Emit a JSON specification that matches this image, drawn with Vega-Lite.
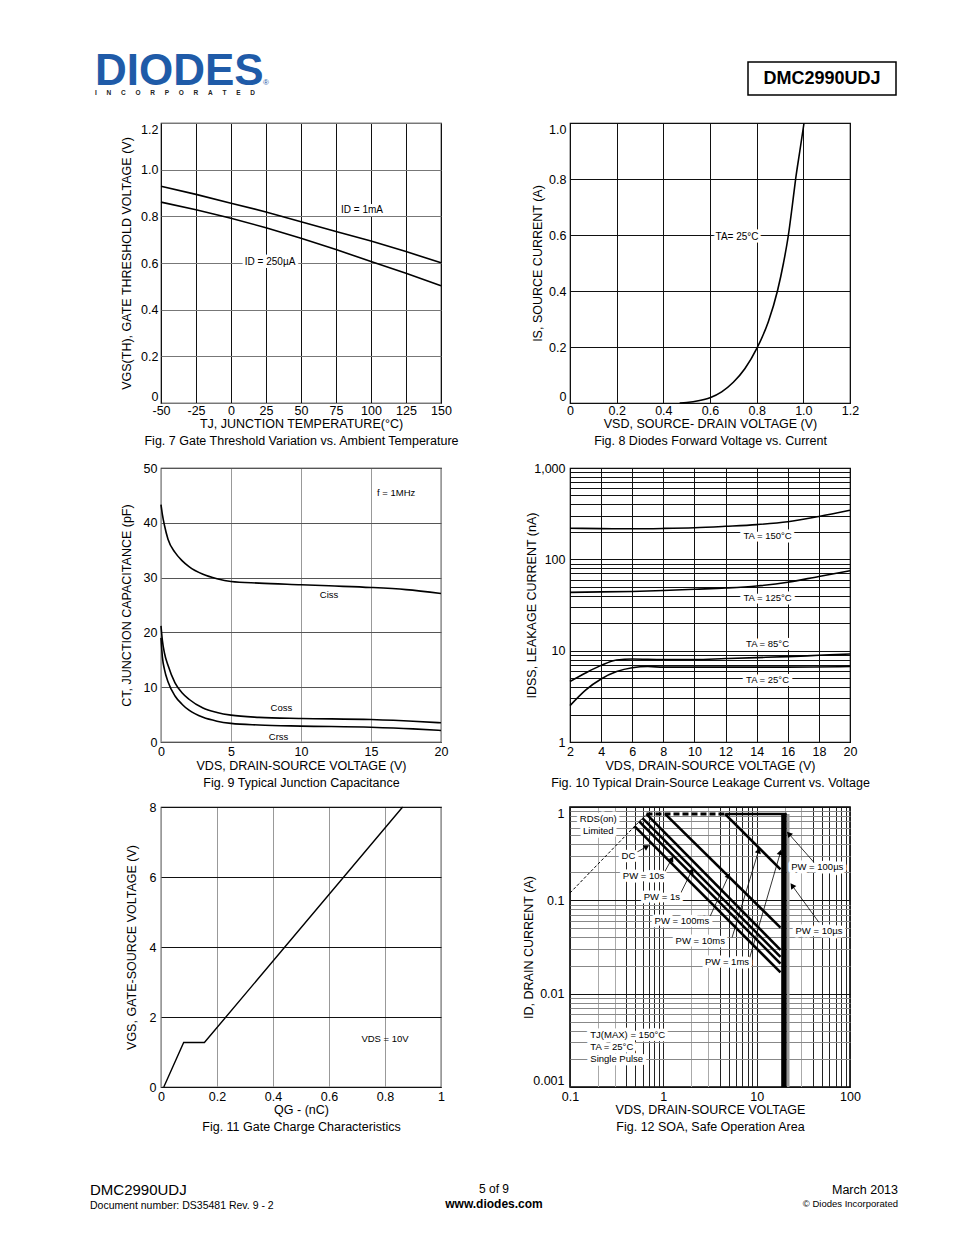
{
  "$schema": "https://vega.github.io/schema/vega-lite/v6.json",
  "background": "white",
  "padding": {"left": 90, "top": 50, "right": 10, "bottom": 10},
  "bounds": "flush",
  "columns": 2,
  "spacing": {"row": 65, "column": 129},
  "config": {
    "font": "Liberation Sans",
    "view": {"stroke": null},
    "axis": {"labelFont": "Liberation Sans", "labelFontSize": 12.5, "labelColor": "#000", "titleFont": "Liberation Sans", "titleFontSize": 12.5, "titleFontWeight": "normal", "titleColor": "#000", "ticks": false, "domain": false, "labelFlush": false, "labelOverlap": false, "labelBound": false, "gridOpacity": 1, "gridWidth": 1, "titleLineHeight": 17, "tickCount": 100},
    "axisX": {"labelPadding": 2, "titlePadding": 1},
    "axisY": {"labelPadding": 4},
    "text": {"font": "Liberation Sans", "fontSize": 10},
    "line": {"color": "black", "strokeWidth": 1.6}
  },
  "datasets": {
    "fig7": [
      {"s": "1mA", "x": -50, "y": 0.929}, {"s": "1mA", "x": -25, "y": 0.894}, {"s": "1mA", "x": 0, "y": 0.856}, {"s": "1mA", "x": 25, "y": 0.819}, {"s": "1mA", "x": 50, "y": 0.777}, {"s": "1mA", "x": 75, "y": 0.735}, {"s": "1mA", "x": 100, "y": 0.694}, {"s": "1mA", "x": 125, "y": 0.649}, {"s": "1mA", "x": 150, "y": 0.601},
      {"s": "250uA", "x": -50, "y": 0.861}, {"s": "250uA", "x": -25, "y": 0.828}, {"s": "250uA", "x": 0, "y": 0.792}, {"s": "250uA", "x": 25, "y": 0.751}, {"s": "250uA", "x": 50, "y": 0.706}, {"s": "250uA", "x": 75, "y": 0.658}, {"s": "250uA", "x": 100, "y": 0.606}, {"s": "250uA", "x": 125, "y": 0.556}, {"s": "250uA", "x": 150, "y": 0.503}
    ],
    "fig7_lab": [{"t": "ID = 1mA", "x": 93.6, "y": 0.827}, {"t": "ID = 250µA", "x": 27.9, "y": 0.604}],
    "fig8": [
      {"x": 0.47, "y": 0}, {"x": 0.5, "y": 0.002}, {"x": 0.55, "y": 0.008}, {"x": 0.6, "y": 0.019}, {"x": 0.65, "y": 0.04}, {"x": 0.7, "y": 0.074}, {"x": 0.75, "y": 0.123}, {"x": 0.8, "y": 0.194}, {"x": 0.85, "y": 0.29}, {"x": 0.889, "y": 0.4}, {"x": 0.915, "y": 0.5}, {"x": 0.936, "y": 0.6}, {"x": 0.952, "y": 0.7}, {"x": 0.967, "y": 0.8}, {"x": 0.985, "y": 0.9}, {"x": 1.003, "y": 1.0}
    ],
    "fig8_lab": [{"t": "TA= 25°C", "x": 0.716, "y": 0.593}],
    "fig9": [
      {"s": "Ciss", "x": 0, "y": 43.3}, {"s": "Ciss", "x": 0.1, "y": 41.5}, {"s": "Ciss", "x": 0.25, "y": 39.5}, {"s": "Ciss", "x": 0.5, "y": 37}, {"s": "Ciss", "x": 1, "y": 34.6}, {"s": "Ciss", "x": 1.5, "y": 33.1}, {"s": "Ciss", "x": 2, "y": 32.0}, {"s": "Ciss", "x": 3, "y": 30.6}, {"s": "Ciss", "x": 4, "y": 29.8}, {"s": "Ciss", "x": 5, "y": 29.3}, {"s": "Ciss", "x": 7, "y": 29.0}, {"s": "Ciss", "x": 10, "y": 28.7}, {"s": "Ciss", "x": 12, "y": 28.5}, {"s": "Ciss", "x": 15, "y": 28.2}, {"s": "Ciss", "x": 17.5, "y": 27.8}, {"s": "Ciss", "x": 20, "y": 27.1},
      {"s": "Coss", "x": 0, "y": 21.2}, {"s": "Coss", "x": 0.1, "y": 18.5}, {"s": "Coss", "x": 0.25, "y": 16.2}, {"s": "Coss", "x": 0.5, "y": 14}, {"s": "Coss", "x": 1, "y": 10.8}, {"s": "Coss", "x": 1.5, "y": 9.0}, {"s": "Coss", "x": 2, "y": 7.8}, {"s": "Coss", "x": 3, "y": 6.2}, {"s": "Coss", "x": 4, "y": 5.4}, {"s": "Coss", "x": 5, "y": 4.9}, {"s": "Coss", "x": 7, "y": 4.5}, {"s": "Coss", "x": 10, "y": 4.3}, {"s": "Coss", "x": 15, "y": 4.1}, {"s": "Coss", "x": 18, "y": 3.8}, {"s": "Coss", "x": 20, "y": 3.5},
      {"s": "Crss", "x": 0, "y": 19}, {"s": "Crss", "x": 0.1, "y": 15.5}, {"s": "Crss", "x": 0.25, "y": 13.2}, {"s": "Crss", "x": 0.5, "y": 11}, {"s": "Crss", "x": 1, "y": 8.4}, {"s": "Crss", "x": 1.5, "y": 6.9}, {"s": "Crss", "x": 2, "y": 5.8}, {"s": "Crss", "x": 3, "y": 4.5}, {"s": "Crss", "x": 4, "y": 3.8}, {"s": "Crss", "x": 5, "y": 3.4}, {"s": "Crss", "x": 7, "y": 3.1}, {"s": "Crss", "x": 10, "y": 2.9}, {"s": "Crss", "x": 15, "y": 2.7}, {"s": "Crss", "x": 18, "y": 2.4}, {"s": "Crss", "x": 20, "y": 2.1}
    ],
    "fig9_lab": [{"t": "f = 1MHz", "x": 16.8, "y": 45.5}, {"t": "Ciss", "x": 12.0, "y": 26.9}, {"t": "Coss", "x": 8.6, "y": 6.2}, {"t": "Crss", "x": 8.4, "y": 0.9}],
    "fig10": [
      {"s": "150", "x": 2, "y": 219}, {"s": "150", "x": 4, "y": 217}, {"s": "150", "x": 6, "y": 216}, {"s": "150", "x": 8, "y": 218}, {"s": "150", "x": 10, "y": 222}, {"s": "150", "x": 12, "y": 230}, {"s": "150", "x": 14, "y": 240}, {"s": "150", "x": 16, "y": 258}, {"s": "150", "x": 18, "y": 295}, {"s": "150", "x": 20, "y": 345},
      {"s": "125", "x": 2, "y": 43.5}, {"s": "125", "x": 4, "y": 44}, {"s": "125", "x": 6, "y": 44.5}, {"s": "125", "x": 8, "y": 45.5}, {"s": "125", "x": 10, "y": 47}, {"s": "125", "x": 12, "y": 48.5}, {"s": "125", "x": 14, "y": 51}, {"s": "125", "x": 16, "y": 56}, {"s": "125", "x": 18, "y": 65}, {"s": "125", "x": 20, "y": 75},
      {"s": "85", "x": 2, "y": 4.6}, {"s": "85", "x": 3, "y": 5.7}, {"s": "85", "x": 4, "y": 6.9}, {"s": "85", "x": 5, "y": 7.9}, {"s": "85", "x": 6, "y": 8.1}, {"s": "85", "x": 8, "y": 8.0}, {"s": "85", "x": 10, "y": 8.0}, {"s": "85", "x": 12, "y": 8.2}, {"s": "85", "x": 14, "y": 8.4}, {"s": "85", "x": 16, "y": 8.6}, {"s": "85", "x": 18, "y": 8.9}, {"s": "85", "x": 20, "y": 9.2},
      {"s": "25", "x": 2, "y": 2.5}, {"s": "25", "x": 3, "y": 3.7}, {"s": "25", "x": 4, "y": 4.9}, {"s": "25", "x": 5, "y": 5.9}, {"s": "25", "x": 6, "y": 6.5}, {"s": "25", "x": 7, "y": 6.7}, {"s": "25", "x": 8, "y": 6.6}, {"s": "25", "x": 10, "y": 6.6}, {"s": "25", "x": 12, "y": 6.6}, {"s": "25", "x": 16, "y": 6.6}, {"s": "25", "x": 20, "y": 6.7}
    ],
    "fig10_lab": [{"t": "TA = 150°C", "x": 14.7, "y": 179}, {"t": "TA = 125°C", "x": 14.7, "y": 38}, {"t": "TA = 85°C", "x": 14.7, "y": 11.9}, {"t": "TA = 25°C", "x": 14.7, "y": 4.8}],
    "fig11": [{"x": 0.01, "y": 0}, {"x": 0.081, "y": 1.27}, {"x": 0.155, "y": 1.27}, {"x": 0.863, "y": 8}],
    "fig11_lab": [{"t": "VDS = 10V", "x": 0.8, "y": 1.37}],
    "soa_rds": [{"v": 0.1, "i": 0.12, "v2": 0.66, "i2": 0.84}],
    "soa_lim": [{"v": 0.66, "i": 0.84, "v2": 4.6, "i2": 0.84}],
    "soa_lines": [
      {"s": "top", "v": 4.6, "i": 0.84, "v2": 21, "i2": 0.84},
      {"s": "1ms", "v": 4.6, "i": 0.84, "v2": 18, "i2": 0.215},
      {"s": "10ms", "v": 1.05, "i": 0.84, "v2": 18, "i2": 0.051},
      {"s": "100ms", "v": 0.66, "i": 0.84, "v2": 18, "i2": 0.0295},
      {"s": "1s", "v": 0.597, "i": 0.76, "v2": 18, "i2": 0.0248},
      {"s": "10s", "v": 0.55, "i": 0.70, "v2": 18, "i2": 0.021},
      {"s": "DC", "v": 0.49, "i": 0.625, "v2": 18, "i2": 0.0169}
    ],
    "soa_vert": [{"v": 19.6, "i": 0.84, "v2": 19.6, "i2": 0.001}],
    "soa_vert2": [{"v": 21.8, "i": 0.84, "v2": 21.8, "i2": 0.001}],
    "soa_leaders": [
      {"pw": "DC", "v": 0.499, "i": 0.32, "v2": 0.665, "i2": 0.377},
      {"pw": "10s", "v": 1.005, "i": 0.192, "v2": 1.233, "i2": 0.278},
      {"pw": "1s", "v": 1.52, "i": 0.117, "v2": 2.02, "i2": 0.208},
      {"pw": "100ms", "v": 3.19, "i": 0.0683, "v2": 5.01, "i2": 0.184},
      {"pw": "10ms", "v": 5.45, "i": 0.04, "v2": 10.5, "i2": 0.341},
      {"pw": "1ms", "v": 8.22, "i": 0.0224, "v2": 18.0, "i2": 0.328},
      {"pw": "100us", "v": 41.0, "i": 0.256, "v2": 22.1, "i2": 0.516},
      {"pw": "10us", "v": 46.5, "i": 0.058, "v2": 24.0, "i2": 0.144}
    ],
    "soa_lab": [
      {"t": "RDS(on)", "v": 0.201, "i": 0.748}, {"t": "Limited", "v": 0.201, "i": 0.556},
      {"t": "DC", "v": 0.423, "i": 0.302},
      {"t": "PW = 10s", "v": 0.614, "i": 0.184},
      {"t": "PW = 1s", "v": 0.964, "i": 0.108},
      {"t": "PW = 100ms", "v": 1.58, "i": 0.06},
      {"t": "PW = 10ms", "v": 2.49, "i": 0.0368},
      {"t": "PW = 1ms", "v": 4.81, "i": 0.0216},
      {"t": "PW = 100µs", "v": 44.6, "i": 0.226},
      {"t": "PW = 10µs", "v": 46.5, "i": 0.047}
    ],
    "soa_notes": [{"t": "TJ(MAX) = 150°C", "v": 0.165, "i": 0.00365}, {"t": "TA = 25°C", "v": 0.165, "i": 0.00271}, {"t": "Single Pulse", "v": 0.165, "i": 0.00201}]
  },
  "concat": [
    {
      "width": 280, "height": 8,
      "view": {"stroke": null},
      "layer": [
        {"data": {"values": [{"t": "DIODES"}]},
         "mark": {"type": "text", "align": "left", "baseline": "top", "fontSize": 44, "fontWeight": "bold", "color": "#1f5ba8", "dx": -66},
         "encoding": {"x": {"datum": "left", "type": "nominal", "scale": {"type": "point", "domain": ["left", "right"], "padding": 0}, "axis": null}, "y": {"datum": "top", "type": "nominal", "scale": {"type": "point", "domain": ["top", "bottom"], "padding": 0}, "axis": null}, "text": {"field": "t"}}},
        {"data": {"values": [{"t": "®"}]},
         "mark": {"type": "text", "align": "left", "baseline": "middle", "fontSize": 8, "color": "#1f5ba8", "dx": 102, "dy": 33},
         "encoding": {"x": {"datum": "left", "type": "nominal"}, "y": {"datum": "top", "type": "nominal"}, "text": {"field": "t"}}},
        {"data": {"values": [{"t": "I\u2003\u2002N\u2003\u2002C\u2003\u2002O\u2003\u2002R\u2003\u2002P\u2003\u2002O\u2003\u2002R\u2003\u2002A\u2003\u2002T\u2003\u2002E\u2003\u2002D"}]},
         "mark": {"type": "text", "align": "left", "baseline": "middle", "fontSize": 6.5, "fontWeight": "bold", "color": "#222", "dx": -66, "dy": 43},
         "encoding": {"x": {"datum": "left", "type": "nominal"}, "y": {"datum": "top", "type": "nominal"}, "text": {"field": "t"}}}
      ]
    },
    {
      "width": 280, "height": 8,
      "view": {"stroke": null},
      "layer": [
        {"data": {"values": [{"t": "DMC2990UDJ"}]},
         "mark": {"type": "point", "shape": "M-1,-0.223H1V0.223H-1Z", "size": 21904, "filled": false, "stroke": "black", "strokeWidth": 1.5, "opacity": 1, "xOffset": -28, "yOffset": 28.5},
         "encoding": {"x": {"datum": "right", "type": "nominal", "scale": {"type": "point", "domain": ["left", "right"], "padding": 0}, "axis": null}, "y": {"datum": "top", "type": "nominal", "scale": {"type": "point", "domain": ["top", "bottom"], "padding": 0}, "axis": null}}},
        {"data": {"values": [{"t": "DMC2990UDJ"}]},
         "mark": {"type": "text", "align": "center", "baseline": "middle", "fontSize": 18, "fontWeight": "bold", "color": "black", "dx": -28, "dy": 28.5},
         "encoding": {"x": {"datum": "right", "type": "nominal"}, "y": {"datum": "top", "type": "nominal"}, "text": {"field": "t"}}}
      ]
    },
    {
      "width": 280, "height": 280,
      "view": {"stroke": "black", "strokeWidth": 1.2},
      "layer": [
        {"data": {"name": "fig7"}, "mark": {"type": "line", "color": "black", "strokeWidth": 1.6},
         "encoding": {
           "x": {"field": "x", "type": "quantitative", "scale": {"domain": [-50, 150], "nice": false, "zero": false},
                 "axis": {"values": [-50, -25, 0, 25, 50, 75, 100, 125, 150], "tickCount": 100, "labelOverlap": false, "grid": true, "gridColor": "#111", "labelPadding": 1, "titlePadding": 1, "labelExpr": "'' + datum.value", "title": ["TJ, JUNCTION TEMPERATURE(°C)", "Fig. 7 Gate Threshold Variation vs. Ambient Temperature"]}},
           "y": {"field": "y", "type": "quantitative", "scale": {"domain": [0, 1.2], "nice": false, "zero": false},
                 "axis": {"values": [0, 0.2, 0.4, 0.6, 0.8, 1, 1.2], "tickCount": 100, "labelOverlap": false, "labelFlush": true, "grid": true, "gridColor": "#777", "labelPadding": 3, "titlePadding": 7.5, "labelExpr": "datum.value == 0 ? '0' : format(datum.value, '.1f')", "title": "VGS(TH), GATE THRESHOLD VOLTAGE (V)"}},
           "detail": {"field": "s", "type": "nominal"}
         }},
        {"data": {"name": "fig7_lab"}, "mark": {"type": "text", "fontSize": 10, "fill": "white", "stroke": "white", "strokeWidth": 6, "strokeJoin": "round"},
         "encoding": {"x": {"field": "x", "type": "quantitative"}, "y": {"field": "y", "type": "quantitative"}, "text": {"field": "t"}}},
        {"data": {"name": "fig7_lab"}, "mark": {"type": "text", "fontSize": 10, "color": "black"},
         "encoding": {"x": {"field": "x", "type": "quantitative"}, "y": {"field": "y", "type": "quantitative"}, "text": {"field": "t"}}}
      ]
    },
    {
      "width": 280, "height": 280,
      "view": {"stroke": "black", "strokeWidth": 1.2},
      "layer": [
        {"data": {"name": "fig8"}, "mark": {"type": "line", "color": "black", "strokeWidth": 1.6, "interpolate": "monotone"},
         "encoding": {
           "x": {"field": "x", "type": "quantitative", "scale": {"domain": [0, 1.2], "nice": false, "zero": false},
                 "axis": {"values": [0, 0.2, 0.4, 0.6, 0.8, 1, 1.2], "tickCount": 100, "labelOverlap": false, "grid": true, "gridColor": "#111", "labelPadding": 1, "titlePadding": 1, "labelExpr": "datum.value == 0 ? '0' : format(datum.value, '.1f')", "title": ["VSD, SOURCE- DRAIN VOLTAGE (V)", "Fig. 8 Diodes Forward Voltage vs. Current"]}},
           "y": {"field": "y", "type": "quantitative", "scale": {"domain": [0, 1], "nice": false, "zero": false},
                 "axis": {"values": [0, 0.2, 0.4, 0.6, 0.8, 1], "tickCount": 100, "labelOverlap": false, "labelFlush": true, "grid": true, "gridColor": "#111", "labelPadding": 4, "titlePadding": 4.5, "labelExpr": "datum.value == 0 ? '0' : format(datum.value, '.1f')", "title": "IS, SOURCE CURRENT (A)"}}
         }},
        {"data": {"name": "fig8_lab"}, "mark": {"type": "text", "fontSize": 10, "fill": "white", "stroke": "white", "strokeWidth": 6, "strokeJoin": "round"},
         "encoding": {"x": {"field": "x", "type": "quantitative"}, "y": {"field": "y", "type": "quantitative"}, "text": {"field": "t"}}},
        {"data": {"name": "fig8_lab"}, "mark": {"type": "text", "fontSize": 10, "color": "black"},
         "encoding": {"x": {"field": "x", "type": "quantitative"}, "y": {"field": "y", "type": "quantitative"}, "text": {"field": "t"}}}
      ]
    },
    {
      "width": 280, "height": 274,
      "view": {"stroke": "black", "strokeWidth": 1.2},
      "layer": [
        {"data": {"name": "fig9"}, "mark": {"type": "line", "color": "black", "strokeWidth": 1.6, "interpolate": "monotone"},
         "encoding": {
           "x": {"field": "x", "type": "quantitative", "scale": {"domain": [0, 20], "nice": false, "zero": false},
                 "axis": {"values": [0, 5, 10, 15, 20], "tickCount": 100, "labelOverlap": false, "grid": true, "gridColor": "#999", "labelPadding": 3, "titlePadding": 2, "labelExpr": "'' + datum.value", "title": ["VDS, DRAIN-SOURCE VOLTAGE (V)", "Fig. 9 Typical Junction Capacitance"]}},
           "y": {"field": "y", "type": "quantitative", "scale": {"domain": [0, 50], "nice": false, "zero": false},
                 "axis": {"values": [0, 10, 20, 30, 40, 50], "tickCount": 100, "labelOverlap": false, "grid": true, "gridColor": "#555", "labelPadding": 4, "titlePadding": 10, "labelExpr": "'' + datum.value", "title": "CT, JUNCTION CAPACITANCE (pF)"}},
           "detail": {"field": "s", "type": "nominal"}
         }},
        {"data": {"name": "fig9_lab"}, "mark": {"type": "text", "fontSize": 9.5, "color": "black"},
         "encoding": {"x": {"field": "x", "type": "quantitative"}, "y": {"field": "y", "type": "quantitative"}, "text": {"field": "t"}}}
      ]
    },
    {
      "width": 280, "height": 274,
      "view": {"stroke": "black", "strokeWidth": 1.2},
      "layer": [
        {"data": {"name": "fig10"}, "mark": {"type": "line", "color": "black", "strokeWidth": 1.6, "interpolate": "monotone"},
         "encoding": {
           "x": {"field": "x", "type": "quantitative", "scale": {"domain": [2, 20], "nice": false, "zero": false},
                 "axis": {"values": [2, 4, 6, 8, 10, 12, 14, 16, 18, 20], "tickCount": 100, "labelOverlap": false, "grid": true, "gridColor": "#111", "labelPadding": 3, "titlePadding": 2, "labelExpr": "'' + datum.value", "title": ["VDS, DRAIN-SOURCE VOLTAGE (V)", "Fig. 10 Typical Drain-Source Leakage Current vs. Voltage"]}},
           "y": {"field": "y", "type": "quantitative", "scale": {"type": "log", "domain": [1, 1000], "nice": false},
                 "axis": {"values": [1, 2, 3, 4, 5, 6, 7, 8, 9, 10, 20, 30, 40, 50, 60, 70, 80, 90, 100, 200, 300, 400, 500, 600, 700, 800, 900, 1000], "tickCount": 100, "labelOverlap": false, "grid": true, "gridColor": "#111", "labelPadding": 5, "titlePadding": -5, "labelExpr": "datum.value == 1000 ? '1,000' : (datum.value == 1 || datum.value == 10 || datum.value == 100) ? '' + datum.value : ''", "title": "IDSS, LEAKAGE CURRENT (nA)"}},
           "detail": {"field": "s", "type": "nominal"}
         }},
        {"data": {"name": "fig10_lab"}, "mark": {"type": "text", "fontSize": 9.5, "fill": "white", "stroke": "white", "strokeWidth": 7, "strokeJoin": "round"},
         "encoding": {"x": {"field": "x", "type": "quantitative"}, "y": {"field": "y", "type": "quantitative"}, "text": {"field": "t"}}},
        {"data": {"name": "fig10_lab"}, "mark": {"type": "text", "fontSize": 9.5, "color": "black"},
         "encoding": {"x": {"field": "x", "type": "quantitative"}, "y": {"field": "y", "type": "quantitative"}, "text": {"field": "t"}}}
      ]
    },
    {
      "width": 280, "height": 280,
      "view": {"stroke": "black", "strokeWidth": 1.2},
      "layer": [
        {"data": {"name": "fig11"}, "mark": {"type": "line", "color": "black", "strokeWidth": 1.4},
         "encoding": {
           "x": {"field": "x", "type": "quantitative", "scale": {"domain": [0, 1], "nice": false, "zero": false},
                 "axis": {"values": [0, 0.2, 0.4, 0.6, 0.8, 1], "tickCount": 100, "labelOverlap": false, "grid": true, "gridColor": "#999", "labelPadding": 3, "titlePadding": 1, "labelExpr": "'' + datum.value", "title": ["QG - (nC)", "Fig. 11 Gate Charge Characteristics"]}},
           "y": {"field": "y", "type": "quantitative", "scale": {"domain": [0, 8], "nice": false, "zero": false},
                 "axis": {"values": [0, 2, 4, 6, 8], "tickCount": 100, "labelOverlap": false, "grid": true, "gridColor": "#111", "labelPadding": 5, "titlePadding": 11, "labelExpr": "'' + datum.value", "title": "VGS, GATE-SOURCE VOLTAGE (V)"}}
         }},
        {"data": {"name": "fig11_lab"}, "mark": {"type": "text", "fontSize": 9.5, "color": "black"},
         "encoding": {"x": {"field": "x", "type": "quantitative"}, "y": {"field": "y", "type": "quantitative"}, "text": {"field": "t"}}}
      ]
    },
    {
      "width": 280, "height": 280,
      "view": {"stroke": "black", "strokeWidth": 1.6},
      "layer": [
        {"data": {"name": "soa_rds"}, "mark": {"type": "rule", "color": "black", "strokeWidth": 1, "strokeDash": [3, 2]},
         "encoding": {
           "x": {"field": "v", "type": "quantitative", "scale": {"type": "log", "domain": [0.1, 100], "nice": false},
                 "axis": {"values": [0.1, 0.2, 0.3, 0.4, 0.5, 0.6, 0.7, 0.8, 0.9, 1, 2, 3, 4, 5, 6, 7, 8, 9, 10, 20, 30, 40, 50, 60, 70, 80, 90, 100], "tickCount": 100, "labelOverlap": false, "grid": true, "gridColor": {"condition": {"test": "indexof([0.2, 0.3, 2, 3, 20, 30], datum.value) >= 0", "value": "#aaa"}, "value": "#222"}, "labelPadding": 3, "titlePadding": 1, "labelExpr": "indexof([0.1, 1, 10, 100], datum.value) >= 0 ? '' + datum.value : ''", "title": ["VDS, DRAIN-SOURCE VOLTAGE", "Fig. 12 SOA, Safe Operation Area"]}},
           "x2": {"field": "v2"},
           "y": {"field": "i", "type": "quantitative", "scale": {"type": "log", "domain": [0.001, 1], "nice": false},
                 "axis": {"values": [0.001, 0.002, 0.003, 0.004, 0.005, 0.006, 0.007, 0.008, 0.009, 0.01, 0.02, 0.03, 0.04, 0.05, 0.06, 0.07, 0.08, 0.09, 0.1, 0.2, 0.3, 0.4, 0.5, 0.6, 0.7, 0.8, 0.9, 1], "tickCount": 100, "labelOverlap": false, "labelFlush": true, "grid": true, "gridColor": {"condition": {"test": "indexof([0.001, 0.01, 0.1, 1], datum.value) >= 0", "value": "#111"}, "value": "#888"}, "labelPadding": 6, "titlePadding": -3, "labelExpr": "indexof([0.001, 0.01, 0.1, 1], datum.value) >= 0 ? '' + datum.value : ''", "title": "ID, DRAIN CURRENT (A)"}},
           "y2": {"field": "i2"}
         }},
        {"data": {"name": "soa_vert2"}, "mark": {"type": "rule", "color": "#999", "strokeWidth": 2.5},
         "encoding": {"x": {"field": "v", "type": "quantitative"}, "x2": {"field": "v2"}, "y": {"field": "i", "type": "quantitative"}, "y2": {"field": "i2"}}},
        {"data": {"name": "soa_lim"}, "mark": {"type": "rule", "color": "black", "strokeWidth": 3, "strokeDash": [6, 3]},
         "encoding": {"x": {"field": "v", "type": "quantitative"}, "x2": {"field": "v2"}, "y": {"field": "i", "type": "quantitative"}, "y2": {"field": "i2"}}},
        {"data": {"name": "soa_lines"}, "mark": {"type": "rule", "color": "black", "strokeWidth": 2.6},
         "encoding": {"x": {"field": "v", "type": "quantitative"}, "x2": {"field": "v2"}, "y": {"field": "i", "type": "quantitative"}, "y2": {"field": "i2"}}},
        {"data": {"name": "soa_vert"}, "mark": {"type": "rule", "color": "black", "strokeWidth": 5.5},
         "encoding": {"x": {"field": "v", "type": "quantitative"}, "x2": {"field": "v2"}, "y": {"field": "i", "type": "quantitative"}, "y2": {"field": "i2"}}},
        {"data": {"name": "soa_leaders"}, "mark": {"type": "rule", "color": "black", "strokeWidth": 0.8},
         "encoding": {"x": {"field": "v", "type": "quantitative"}, "x2": {"field": "v2"}, "y": {"field": "i", "type": "quantitative"}, "y2": {"field": "i2"}}},
        {"data": {"name": "soa_leaders"}, "mark": {"type": "point", "shape": "triangle-up", "filled": true, "color": "black", "size": 40, "opacity": 1},
         "encoding": {"x": {"field": "v2", "type": "quantitative"}, "y": {"field": "i2", "type": "quantitative"},
           "angle": {"field": "pw", "type": "ordinal", "scale": {"type": "ordinal", "domain": ["DC", "10s", "1s", "100ms", "10ms", "1ms", "100us", "10us"], "range": [60, 29, 26, 25, 17, 16, -42, -36]}, "legend": null}}},
        {"data": {"name": "soa_lab"}, "mark": {"type": "text", "fontSize": 9.5, "fill": "white", "stroke": "white", "strokeWidth": 7, "strokeJoin": "round"},
         "encoding": {"x": {"field": "v", "type": "quantitative"}, "y": {"field": "i", "type": "quantitative"}, "text": {"field": "t"}}},
        {"data": {"name": "soa_lab"}, "mark": {"type": "text", "fontSize": 9.5, "color": "black"},
         "encoding": {"x": {"field": "v", "type": "quantitative"}, "y": {"field": "i", "type": "quantitative"}, "text": {"field": "t"}}},
        {"data": {"name": "soa_notes"}, "mark": {"type": "text", "fontSize": 9.5, "align": "left", "fill": "white", "stroke": "white", "strokeWidth": 7, "strokeJoin": "round"},
         "encoding": {"x": {"field": "v", "type": "quantitative"}, "y": {"field": "i", "type": "quantitative"}, "text": {"field": "t"}}},
        {"data": {"name": "soa_notes"}, "mark": {"type": "text", "fontSize": 9.5, "align": "left", "color": "black"},
         "encoding": {"x": {"field": "v", "type": "quantitative"}, "y": {"field": "i", "type": "quantitative"}, "text": {"field": "t"}}}
      ]
    },
    {
      "width": 280, "height": 53,
      "view": {"stroke": null},
      "layer": [
        {"data": {"values": [{"t": "DMC2990UDJ"}]},
         "mark": {"type": "text", "align": "left", "baseline": "middle", "fontSize": 15, "color": "black", "dx": -71, "dy": -15},
         "encoding": {"x": {"datum": "left", "type": "nominal", "scale": {"type": "point", "domain": ["left", "right"], "padding": 0}, "axis": null}, "y": {"datum": "bottom", "type": "nominal", "scale": {"type": "point", "domain": ["top", "bottom"], "padding": 0}, "axis": null}, "text": {"field": "t"}}},
        {"data": {"values": [{"t": "Document number: DS35481  Rev. 9 - 2"}]},
         "mark": {"type": "text", "align": "left", "baseline": "middle", "fontSize": 10.5, "color": "black", "dx": -71, "dy": 1},
         "encoding": {"x": {"datum": "left", "type": "nominal"}, "y": {"datum": "bottom", "type": "nominal"}, "text": {"field": "t"}}},
        {"data": {"values": [{"t": "5 of 9"}]},
         "mark": {"type": "text", "align": "center", "baseline": "middle", "fontSize": 12, "color": "black", "dx": 53, "dy": -16},
         "encoding": {"x": {"datum": "right", "type": "nominal"}, "y": {"datum": "bottom", "type": "nominal"}, "text": {"field": "t"}}},
        {"data": {"values": [{"t": "www.diodes.com"}]},
         "mark": {"type": "text", "align": "center", "baseline": "middle", "fontSize": 12, "fontWeight": "bold", "color": "black", "dx": 53, "dy": -1},
         "encoding": {"x": {"datum": "right", "type": "nominal"}, "y": {"datum": "bottom", "type": "nominal"}, "text": {"field": "t"}}}
      ]
    },
    {
      "width": 280, "height": 53,
      "view": {"stroke": null},
      "layer": [
        {"data": {"values": [{"t": "March 2013"}]},
         "mark": {"type": "text", "align": "right", "baseline": "middle", "fontSize": 12.5, "color": "black", "dx": 48, "dy": -15},
         "encoding": {"x": {"datum": "right", "type": "nominal", "scale": {"type": "point", "domain": ["left", "right"], "padding": 0}, "axis": null}, "y": {"datum": "bottom", "type": "nominal", "scale": {"type": "point", "domain": ["top", "bottom"], "padding": 0}, "axis": null}, "text": {"field": "t"}}},
        {"data": {"values": [{"t": "© Diodes Incorporated"}]},
         "mark": {"type": "text", "align": "right", "baseline": "middle", "fontSize": 9.5, "color": "black", "dx": 48, "dy": -1},
         "encoding": {"x": {"datum": "right", "type": "nominal"}, "y": {"datum": "bottom", "type": "nominal"}, "text": {"field": "t"}}}
      ]
    }
  ]
}
